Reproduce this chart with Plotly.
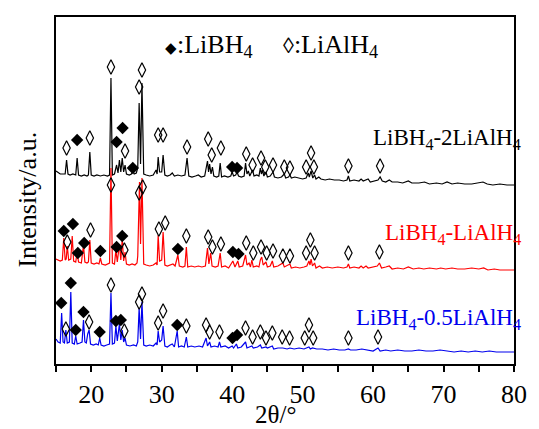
import plotly.graph_objects as go

# ---------------- data (2theta in degrees, intensity in arbitrary units) ----------------
tt_2li = [15.0,15.3,15.6,15.9,16.3,16.5,16.7,17.0,17.4,17.8,18.0,18.2,18.6,19.0,19.4,19.6,19.8,20.0,20.4,20.8,
          21.3,21.8,22.3,22.6,22.8,23.0,23.3,23.6,23.8,24.0,24.2,24.4,24.6,24.8,25.0,25.4,25.7,25.9,26.1,26.4,
          26.6,26.8,27.0,27.2,27.45,27.8,28.3,28.8,29.2,29.35,29.5,29.7,30.0,30.2,30.45,30.8,31.2,31.5,31.8,32.3,
          32.8,33.3,33.6,33.85,34.3,34.8,35.2,35.6,36.1,36.5,36.65,36.8,37.0,37.2,37.4,37.8,38.1,38.3,38.5,38.9,
          39.4,39.8,40.0,40.2,40.5,40.7,40.9,41.3,41.7,41.9,42.1,42.3,42.5,42.9,43.1,43.5,43.8,44.0,44.15,44.3,
          44.5,44.8,45.0,45.4,45.8,46.0,46.5,47.0,47.4,47.6,48.0,48.2,48.4,48.9,49.5,50.0,50.5,50.8,50.95,51.2,
          51.45,51.7,51.9,52.3,52.6,53.2,53.8,54.5,55.2,55.8,56.3,56.5,56.7,57.3,58.0,58.3,58.6,59.0,59.3,59.6,
          60.2,60.7,61.0,61.3,61.8,62.3,62.7,63.5,64.2,65.0,65.5,66.5,67.3,68.0,69.0,69.8,70.5,71.2,72.0,73.0,
          74.0,75.0,75.6,76.2,77.0,78.0,79.0,80.0]
int_2li = [193,191,190,190,190,204,190,189,190,189,206,189,188,189,188,189,212,189,188,189,
           188,189,188,189,286,189,190,199,191,204,192,206,192,199,190,189,190,193,190,191,
           196,261,200,281,190,189,188,189,194,190,207,192,192,209,189,188,189,191,188,189,
           188,189,206,188,187,188,189,187,188,203,192,200,190,197,188,187,188,201,187,188,
           187,188,192,188,189,192,188,187,188,201,190,193,188,194,188,189,188,196,190,194,
           188,192,187,188,192,187,186,187,190,186,187,189,186,187,186,185,186,191,187,193,
           186,189,185,187,185,184,185,184,184,183,184,188,183,184,183,185,183,184,185,182,
           183,184,187,183,182,184,182,182,181,183,181,181,182,180,181,180,182,180,181,180,
           180,181,182,180,179,180,179,179]

tt_1li = [15.0,15.3,15.6,15.9,16.1,16.3,16.45,16.6,16.8,17.1,17.3,17.5,17.8,18.0,18.2,18.6,18.9,19.1,19.4,19.6,
          19.8,20.0,20.4,20.8,21.1,21.3,21.5,22.0,22.4,22.6,22.8,23.0,23.3,23.5,23.7,24.0,24.2,24.4,24.6,24.8,
          25.0,25.4,25.8,26.2,26.5,26.6,26.85,27.0,27.2,27.45,27.8,28.3,28.8,29.2,29.35,29.5,29.7,30.0,30.2,30.45,
          30.8,31.3,31.6,31.9,32.3,32.5,33.0,33.3,33.5,33.7,34.2,34.7,35.2,35.7,36.2,36.5,36.7,36.95,37.15,37.6,
          38.0,38.3,38.5,39.0,39.5,40.1,40.4,40.8,41.0,41.5,41.9,42.1,42.4,42.6,42.8,43.0,43.5,43.8,44.0,44.2,
          44.4,44.8,45.0,45.4,45.7,45.9,46.5,47.2,47.4,48.2,48.4,49.0,49.6,50.2,50.6,50.9,51.05,51.2,51.4,51.7,
          51.9,52.4,52.8,53.5,54.2,55.0,55.8,56.3,56.5,56.7,57.3,58.0,58.3,58.6,59.0,59.3,60.0,60.6,60.9,61.2,
          61.8,62.3,62.7,63.5,64.3,65.0,65.7,66.5,67.2,68.0,69.0,69.6,70.3,71.2,72.0,73.0,74.0,75.0,75.7,76.3,
          77.2,78.0,79.0,80.0]
int_1li = [105,104,103,104,126,104,105,118,104,105,128,103,102,112,102,101,119,102,101,102,
           124,101,100,101,100,106,100,99,100,101,196,101,100,114,102,120,104,125,103,112,
           100,99,100,99,101,108,182,120,186,100,99,98,99,101,99,129,103,104,132,99,
           98,99,100,98,109,98,97,98,117,97,98,97,98,97,98,116,100,111,98,97,
           98,111,97,98,96,103,97,103,97,98,109,99,101,97,104,97,98,97,104,107,
           99,102,97,98,103,97,98,101,97,100,96,97,96,97,98,103,99,105,98,101,
           96,98,96,97,96,97,96,97,100,96,97,96,98,96,98,96,97,98,101,96,
           97,98,95,96,95,97,95,96,95,96,95,96,95,96,95,95,96,95,96,94,
           95,94,94,94]

tt_05li = [15.0,15.3,15.6,15.8,16.0,16.2,16.4,16.6,16.9,17.1,17.3,17.6,17.8,18.0,18.4,18.7,18.9,19.1,19.3,19.5,
           19.7,19.9,20.3,20.7,21.0,21.2,21.4,21.8,22.2,22.6,22.8,23.0,23.3,23.5,23.7,24.0,24.2,24.4,24.6,24.8,
           25.0,25.5,26.0,26.4,26.6,26.8,27.0,27.2,27.45,27.8,28.3,28.8,29.2,29.35,29.5,29.7,30.0,30.2,30.45,30.8,
           31.2,31.5,31.8,32.2,32.4,32.8,33.2,33.5,33.7,34.2,34.7,35.3,35.8,36.3,36.5,36.8,37.0,37.5,38.0,38.2,
           38.4,39.0,39.5,40.0,40.2,40.6,40.8,41.3,41.9,42.1,42.8,43.0,43.6,44.0,44.2,44.8,45.0,45.7,45.9,46.5,
           47.2,47.8,48.2,48.8,49.5,50.2,50.9,51.1,51.4,52.0,52.8,53.6,54.4,55.2,56.0,56.5,56.8,57.6,58.4,59.2,
           60.0,60.7,61.0,61.8,62.5,63.5,64.5,65.5,66.5,67.5,68.5,69.5,70.5,71.5,72.5,73.5,74.5,75.5,76.5,77.5,
           78.5,79.5,80.0]
int_05li = [25,22,21,51,22,21,34,21,22,72,21,20,28,20,21,22,44,22,21,30,
            34,20,19,20,19,26,19,18,19,20,71,20,21,38,23,40,24,34,22,26,
            19,18,19,18,22,56,25,62,19,18,19,18,21,19,33,22,24,38,18,17,
            19,20,17,33,17,18,17,27,17,18,17,18,17,26,18,22,17,18,17,22,
            17,18,16,18,16,20,16,17,22,16,18,16,17,19,16,17,16,18,15,16,
            16,15,16,15,16,15,17,15,16,15,15,14,15,14,14,15,14,14,15,14,
            13,16,13,14,13,14,13,13,14,13,13,14,13,12,13,12,13,12,13,12,
            12,12,12]

# phase markers: open = LiAlH4, filled = LiBH4
alh_2li_x = [16.5,19.8,22.8,24.8,26.8,27.2,29.5,30.2,33.6,36.6,37.1,38.4,42.0,42.9,44.1,44.7,45.8,47.4,48.2,50.5,51.2,51.6,56.5,61.0]
alh_2li_y = [216,226,297,213,277,294,229,229,217,225,209,216,210,199,206,197,199,197,196,197,211,197,198,198]
bh_2li_x = [18.0,23.6,24.45,25.9,40.0,40.7]
bh_2li_y = [224,222,236,196,197,196]

alh_1li_x = [16.6,19.9,22.8,24.7,26.8,27.3,29.6,30.5,33.5,36.6,37.2,38.4,42.0,43.0,44.1,44.9,45.8,47.2,48.2,50.5,51.1,51.7,56.5,60.9]
alh_1li_y = [122,134,179,114,171,177,135,141,128,127,117,120,121,111,117,111,113,108,108,111,124,111,111,112]
bh_1li_x = [16.1,17.4,18.1,19.0,21.3,23.6,24.4,32.3,40.1,40.9]
bh_1li_y = [133,140,111,121,113,117,128,115,112,110]

alh_05li_x = [16.4,19.7,22.8,24.7,26.8,27.2,29.5,30.2,33.5,36.3,36.8,38.2,41.9,42.9,44.0,44.8,45.7,47.1,48.15,50.3,50.9,51.5,56.5,60.7]
alh_05li_y = [35,42,79,33,62,70,41,53,38,39,32,32,36,27,32,26,31,27,26,26,39,26,26,27]
bh_05li_x = [15.75,17.1,17.8,18.9,21.2,23.5,24.2,32.2,40.05,40.7]
bh_05li_y = [61,81,34,52,32,43,44,39,26,29]

x_ticks = [20, 30, 40, 50, 60, 70, 80]
series_names = ["LiBH<sub>4</sub>-2LiAlH<sub>4</sub>", "LiBH<sub>4</sub>-LiAlH<sub>4</sub>",
                "LiBH<sub>4</sub>-0.5LiAlH<sub>4</sub>"]
series_colors = ["black", "#ff0000", "#0000ee"]

# ---------------- figure ----------------
FONT = "Liberation Serif, Times New Roman, serif"
W, H = 539, 429
ML, MR, MT, MB = 56, 15, 17, 65
PW, PH = W - ML - MR, H - MT - MB


def px2paper(px, py):
    return (px - ML) / PW, (H - MB - py) / PH


fig = go.Figure()

for tt, yy, col in [(tt_2li, int_2li, series_colors[0]),
                    (tt_1li, int_1li, series_colors[1]),
                    (tt_05li, int_05li, series_colors[2])]:
    fig.add_trace(go.Scatter(x=tt, y=yy, mode="lines", line=dict(color=col, width=1.2),
                             showlegend=False, hoverinfo="skip"))

for xs, ys in [(alh_2li_x, alh_2li_y), (alh_1li_x, alh_1li_y), (alh_05li_x, alh_05li_y)]:
    fig.add_trace(go.Scatter(x=xs, y=ys, mode="markers", showlegend=False, hoverinfo="skip",
                             marker=dict(symbol="diamond-tall-open", size=10.5, color="black",
                                         line=dict(color="black", width=1.2))))
for xs, ys in [(bh_2li_x, bh_2li_y), (bh_1li_x, bh_1li_y), (bh_05li_x, bh_05li_y)]:
    fig.add_trace(go.Scatter(x=xs, y=ys, mode="markers", showlegend=False, hoverinfo="skip",
                             marker=dict(symbol="diamond", size=9.5, color="black",
                                         line=dict(width=0))))

fig.update_layout(
    width=W, height=H,
    margin=dict(l=ML, r=MR, t=MT, b=MB),
    paper_bgcolor="white", plot_bgcolor="white",
    font=dict(family=FONT, color="black", size=25),
    xaxis=dict(range=[15, 80], tickmode="array", tickvals=x_ticks, ticks="outside",
               ticklen=6, tickwidth=1.5, tickcolor="black", showline=True, linecolor="black",
               linewidth=1.5, mirror=True, showgrid=False, zeroline=False,
               tickfont=dict(family=FONT, size=26, color="black"),
               minor=dict(tickvals=[15, 25, 35, 45, 55, 65, 75], ticks="outside", ticklen=6,
                          tickwidth=1.5, tickcolor="black", showgrid=False)),
    yaxis=dict(range=[0, 347], showticklabels=False, ticks="", showline=True, linecolor="black",
               linewidth=1.5, mirror=True, showgrid=False, zeroline=False),
)

anns = [
    dict(text="Intensity/a.u.", x=27, y=200, textangle=-90, size=26),
    dict(text="2θ/°", x=280, y=414, size=25),
    dict(text="<span style='font-size:15px'>◆</span>:LiBH<sub>4</sub>", x=212, y=46, size=26),
    dict(text="<span style='font-size:22px'>◊</span>:LiAlH<sub>4</sub>", x=337, y=46, size=26),
]
for a in anns:
    ax, ay = px2paper(a["x"], a["y"])
    fig.add_annotation(text=a["text"], x=ax, y=ay, xref="paper", yref="paper",
                       xanchor="center", yanchor="middle", showarrow=False,
                       textangle=a.get("textangle", 0),
                       font=dict(family=FONT, size=a["size"], color="black"))

label_pos = [(533, 139), (533, 234), (533, 319)]
for name, col, (px, py) in zip(series_names, series_colors, label_pos):
    ax, ay = px2paper(px, py)
    fig.add_annotation(text=name, x=ax, y=ay, xref="paper", yref="paper",
                       xanchor="right", yanchor="middle", showarrow=False,
                       font=dict(family=FONT, size=23, color=col))

fig.write_html("out.html")
